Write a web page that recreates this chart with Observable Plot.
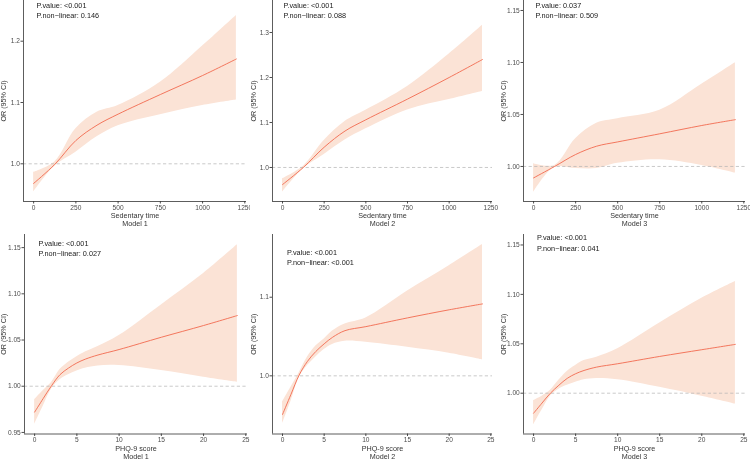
<!DOCTYPE html>
<html>
<head>
<meta charset="utf-8">
<script src="https://cdn.jsdelivr.net/npm/d3@7"></script>
<script src="https://cdn.jsdelivr.net/npm/@observablehq/plot@0.6"></script>
<style>
  html, body { margin: 0; padding: 0; background: #fff; }
  #grid { width: 750px; height: 460px; position: relative; overflow: hidden; }
  .cell { position: absolute; width: 250px; overflow: hidden; }
  .cell svg { overflow: hidden; will-change: transform; }
</style>
</head>
<body>
<div id="grid"></div>
<script>
// ---------- data ----------
const sedX = [0, 125, 250, 375, 500, 750, 1000, 1200];
const phqX = [0, 1, 2, 3, 4, 5, 6, 7.5, 10, 15, 20, 24];

const sedTicks = [0, 250, 500, 750, 1000, 1250];
const phqTicks = [0, 5, 10, 15, 20, 25];

// Sedentary time, Model 1
const s1Mid = [0.968, 0.999, 1.038, 1.063, 1.081, 1.113, 1.144, 1.171];
const s1Hi  = [0.986, 1.003, 1.057, 1.084, 1.095, 1.133, 1.192, 1.242];
const s1Lo  = [0.954, 0.996, 1.019, 1.044, 1.062, 1.080, 1.095, 1.104];
// Sedentary time, Model 2
const s2Mid = [0.962, 1.000, 1.045, 1.081, 1.106, 1.152, 1.200, 1.240];
const s2Hi  = [0.975, 1.003, 1.060, 1.102, 1.127, 1.180, 1.252, 1.316];
const s2Lo  = [0.945, 0.997, 1.029, 1.061, 1.086, 1.128, 1.151, 1.169];
// Sedentary time, Model 3
const s3Mid = [0.989, 1.000, 1.0115, 1.0195, 1.0236, 1.0314, 1.0394, 1.045];
const s3Hi  = [1.0026, 1.001, 1.0266, 1.0415, 1.0459, 1.0540, 1.0790, 1.0997];
const s3Lo  = [0.975, 0.999, 0.998, 0.998, 1.003, 1.0064, 1.001, 0.9936];

// PHQ-9 score, Model 1
const p1Mid = [0.972, 0.9865, 1.0005, 1.0125, 1.0196, 1.0252, 1.0293, 1.0338, 1.0397, 1.053, 1.0657, 1.0765];
const p1Hi  = [0.9853, 0.995, 1.004, 1.018, 1.026, 1.032, 1.037, 1.043, 1.0548, 1.088, 1.122, 1.153];
const p1Lo  = [0.9586, 0.978, 0.997, 1.007, 1.0125, 1.0165, 1.0195, 1.022, 1.0224, 1.017, 1.0097, 1.0043];
// PHQ-9 score, Model 2
const p2Mid = [0.9508, 0.976, 1.001, 1.0185, 1.031, 1.0407, 1.049, 1.0575, 1.0626, 1.0737, 1.084, 1.0915];
const p2Hi  = [0.9665, 0.985, 1.004, 1.024, 1.038, 1.047, 1.057, 1.066, 1.0737, 1.108, 1.140, 1.167];
const p2Lo  = [0.939, 0.967, 0.998, 1.013, 1.024, 1.0334, 1.040, 1.044, 1.0427, 1.0363, 1.0287, 1.0203];
// PHQ-9 score, Model 3
const p3Mid = [0.9797, 0.990, 1.000, 1.008, 1.015, 1.0197, 1.023, 1.0264, 1.0298, 1.0372, 1.044, 1.0494];
const p3Hi  = [0.9926, 0.997, 1.003, 1.013, 1.022, 1.028, 1.033, 1.0365, 1.045, 1.071, 1.096, 1.113];
const p3Lo  = [0.968, 0.983, 0.997, 1.004, 1.008, 1.011, 1.0135, 1.0148, 1.0136, 1.006, 0.997, 0.989];

const pValues    = ["<0.001", "<0.001", "0.037", "<0.001", "<0.001", "<0.001"];
const pNonLinear = ["0.146", "0.088", "0.509", "0.027", "<0.001", "0.041"];
const xTitles = ["Sedentary time", "Sedentary time", "Sedentary time", "PHQ-9 score", "PHQ-9 score", "PHQ-9 score"];
const modelNames = ["Model 1", "Model 2", "Model 3", "Model 1", "Model 2", "Model 3"];
const yTitle = "OR (95% CI)";

// ---------- layout / style ----------
const FONT = "'Liberation Sans', Arial, Helvetica, sans-serif";
const LINE = "#F26A4F";
const RIBBON = "#FBE3D6";

const panels = [
  {xs: sedX, mid: s1Mid, hi: s1Hi, lo: s1Lo, xDomain: [-60, 1260], xTicks: sedTicks,
   yDomain: [0.9385, 1.2664], yTicks: [1.0, 1.1, 1.2], yFmt: ".1f",
   ml: 23, mr: 4, mt: 0, mb: 29, left: 0, top: 0, h: 230, ann: [36, 5, 15], tdy: [14.5, 22]},
  {xs: sedX, mid: s2Mid, hi: s2Hi, lo: s2Lo, xDomain: [-60, 1260], xTicks: sedTicks,
   yDomain: [0.9244, 1.3711], yTicks: [1.0, 1.1, 1.2, 1.3], yFmt: ".1f",
   ml: 22, mr: 8, mt: 0, mb: 29, left: 250, top: 0, h: 230, ann: [33, 5, 15], tdy: [14.5, 22]},
  {xs: sedX, mid: s3Mid, hi: s3Hi, lo: s3Lo, xDomain: [-60, 1260], xTicks: sedTicks,
   yDomain: [0.9663, 1.1596], yTicks: [1.00, 1.05, 1.10, 1.15], yFmt: ".2f",
   ml: 23, mr: 5, mt: 0, mb: 29, left: 500, top: 0, h: 230, ann: [35, 5, 15], tdy: [14.5, 22]},
  {xs: phqX, mid: p1Mid, hi: p1Hi, lo: p1Lo, xDomain: [-1.2, 25.2], xTicks: phqTicks,
   yDomain: [0.9483, 1.1642], yTicks: [0.95, 1.00, 1.05, 1.10, 1.15], yFmt: ".2f",
   ml: 24, mr: 3, mt: 4, mb: 26.5, left: 0, top: 230, h: 230, ann: [38, 13, 23], tdy: [14.5, 22.3]},
  {xs: phqX, mid: p2Mid, hi: p2Hi, lo: p2Lo, xDomain: [-1.2, 25.2], xTicks: phqTicks,
   yDomain: [0.926, 1.1798], yTicks: [1.0, 1.1], yFmt: ".1f",
   ml: 22, mr: 8, mt: 4, mb: 26.5, left: 250, top: 230, h: 230, ann: [36.5, 22.5, 32.5], tdy: [14.5, 22.3]},
  {xs: phqX, mid: p3Mid, hi: p3Hi, lo: p3Lo, xDomain: [-1.2, 25.2], xTicks: phqTicks,
   yDomain: [0.9587, 1.1606], yTicks: [1.00, 1.05, 1.10, 1.15], yFmt: ".2f",
   ml: 23, mr: 5, mt: 4, mb: 26.5, left: 500, top: 230, h: 230, ann: [36.5, 7, 18.5], tdy: [14.5, 22.3]}
];

const grid = document.getElementById("grid");

panels.forEach((p, i) => {
  const data = p.xs.map((x, j) => ({x, mid: p.mid[j], hi: p.hi[j], lo: p.lo[j]}));
  const chart = Plot.plot({
    width: 250,
    height: 230,
    marginLeft: p.ml,
    marginRight: p.mr,
    marginTop: p.mt,
    marginBottom: p.mb,
    style: {fontFamily: FONT, fontSize: "6.6px", color: "#4d4d4d", background: "white"},
    x: {domain: p.xDomain, ticks: p.xTicks, tickSize: 2.5, tickPadding: 1, label: null, tickFormat: d3.format("d")},
    y: {domain: p.yDomain, ticks: p.yTicks, tickSize: 2.5, tickPadding: 1.2, label: null, tickFormat: d3.format(p.yFmt)},
    marks: [
      Plot.areaY(data, {x: "x", y1: "lo", y2: "hi", fill: RIBBON, curve: "catmull-rom"}),
      Plot.ruleY([1], {stroke: "#b3b3b3", strokeWidth: 0.7, strokeDasharray: "3.2,2.4"}),
      Plot.line(data, {x: "x", y: "mid", stroke: LINE, strokeWidth: 0.9, curve: "catmull-rom"}),
      Plot.ruleX([p.xDomain[0]], {stroke: "#333", strokeWidth: 0.8}),
      Plot.ruleY([p.yDomain[0]], {stroke: "#333", strokeWidth: 0.8}),
      Plot.text([`P.value: ${pValues[i]}`], {
        text: d => d, frameAnchor: "top-left", dx: p.ann[0] - p.ml, dy: p.ann[1] - p.mt,
        textAnchor: "start", lineAnchor: "middle", fontSize: 7.3, fill: "#1a1a1a"
      }),
      Plot.text([`P.non\u2212linear: ${pNonLinear[i]}`], {
        text: d => d, frameAnchor: "top-left", dx: p.ann[0] - p.ml, dy: p.ann[2] - p.mt,
        textAnchor: "start", lineAnchor: "middle", fontSize: 7.3, fill: "#1a1a1a"
      }),
      Plot.text([yTitle], {
        text: d => d, frameAnchor: "left", dx: -(p.ml - 3.6), rotate: -90,
        textAnchor: "middle", lineAnchor: "middle", fontSize: 7.2, fill: "#333"
      }),
      Plot.text([xTitles[i]], {
        text: d => d, frameAnchor: "bottom", dy: p.tdy[0],
        textAnchor: "middle", lineAnchor: "middle", fontSize: 7.2, fill: "#333"
      }),
      Plot.text([modelNames[i]], {
        text: d => d, frameAnchor: "bottom", dy: p.tdy[1],
        textAnchor: "middle", lineAnchor: "middle", fontSize: 7.2, fill: "#333"
      })
    ]
  });
  const cell = document.createElement("div");
  cell.className = "cell";
  cell.style.left = p.left + "px";
  cell.style.top = p.top + "px";
  cell.style.height = p.h + "px";
  cell.appendChild(chart);
  grid.appendChild(cell);
});
</script>
</body>
</html>
